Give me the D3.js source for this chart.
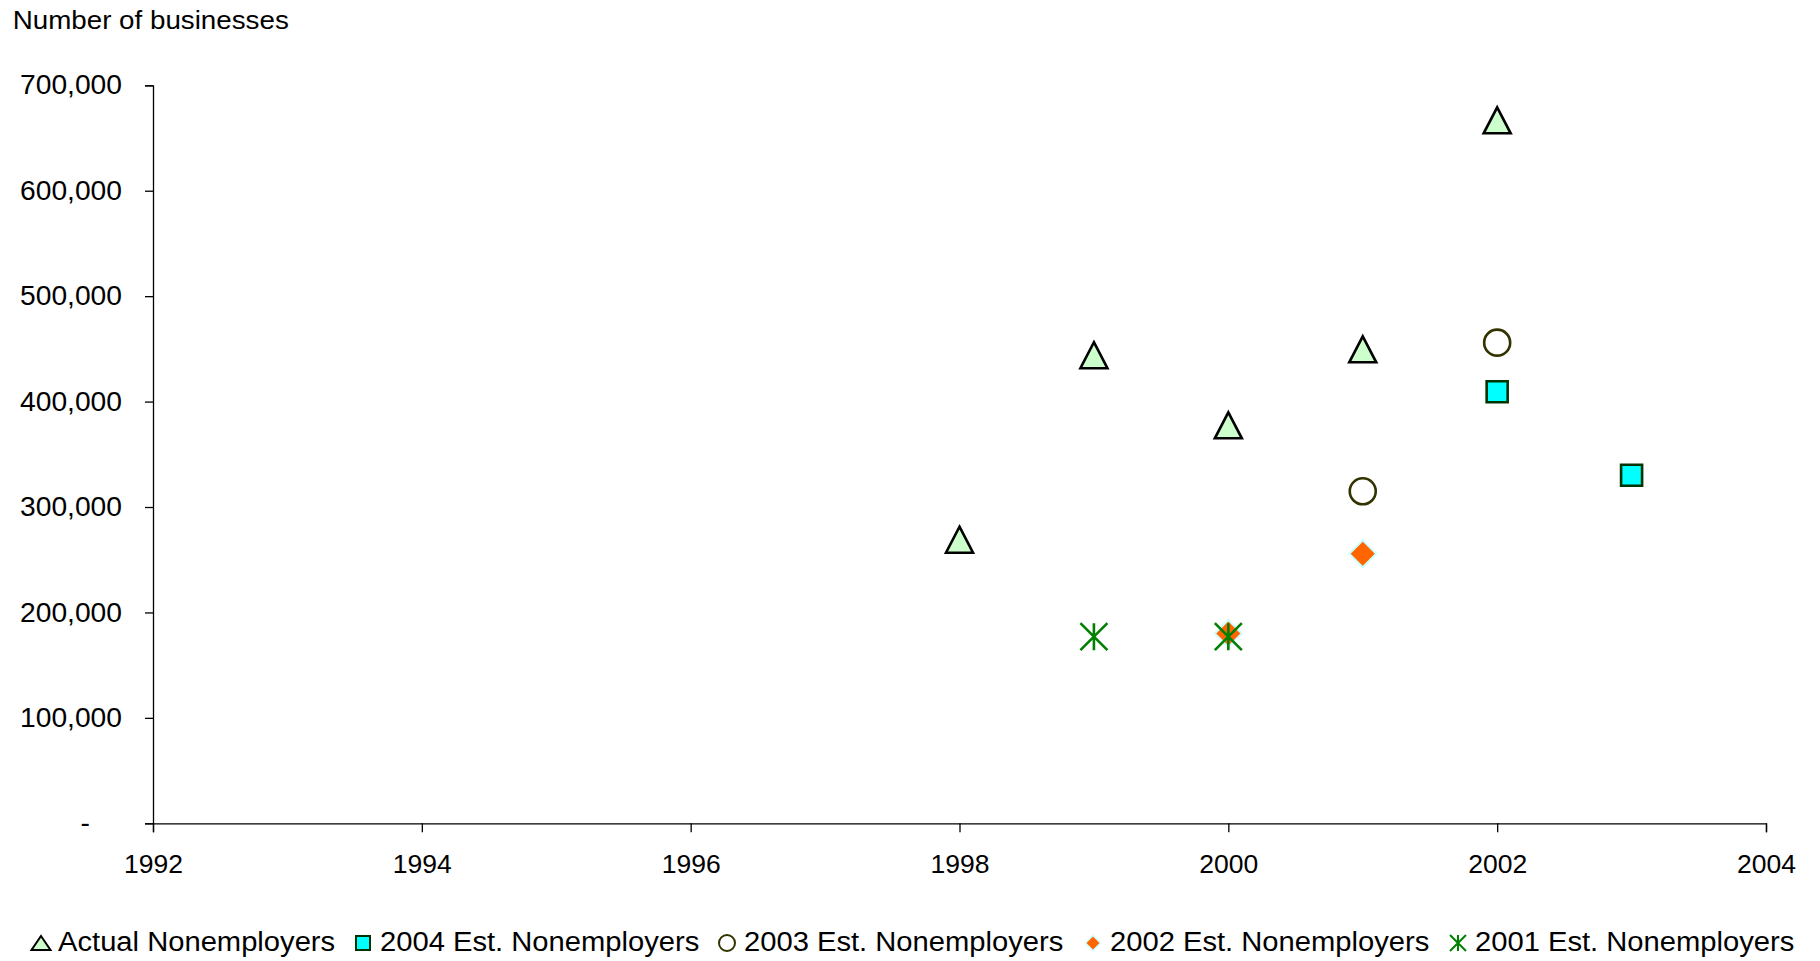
<!DOCTYPE html>
<html>
<head>
<meta charset="utf-8">
<script src="https://cdn.jsdelivr.net/npm/d3@7"></script>
<style>
  html, body { margin: 0; padding: 0; background: #fff; }
  svg { display: block; font-family: "Liberation Sans", Arial, sans-serif; }
</style>
</head>
<body>
<svg id="chart" width="1820" height="961"></svg>
<script>
// ---- data ----
const yTickValues = [0, 100000, 200000, 300000, 400000, 500000, 600000, 700000];
const xTickValues = [1992, 1994, 1996, 1998, 2000, 2002, 2004];

const actualYears = [1998, 1999, 2000, 2001, 2002];
const actualValues = [269000, 444000, 377500, 449600, 666800];

const est2004Years = [2002, 2003];
const est2004Values = [409400, 330100];

const est2003Years = [2001, 2002];
const est2003Values = [314900, 455900];

const est2002Years = [2000, 2001];
const est2002Values = [180000, 255700];

const est2001Years = [1999, 2000];
const est2001Values = [177000, 177000];

const seriesNames = ["Actual Nonemployers", "2004 Est. Nonemployers", "2003 Est. Nonemployers", "2002 Est. Nonemployers", "2001 Est. Nonemployers"];

// ---- layout ----
const svg = d3.select("#chart");
const plotLeft = 153, plotRight = 1766, plotTop = 85.3, plotBottom = 823.3;

const x = d3.scaleLinear().domain([1992, 2004]).range([plotLeft, plotRight]);
const y = d3.scaleLinear().domain([0, 700000]).range([plotBottom, plotTop]);

function stretch(sel, factor) {
  sel.each(function() {
    const len = this.getComputedTextLength();
    d3.select(this).attr("textLength", len * factor).attr("lengthAdjust", "spacingAndGlyphs");
  });
}

// title
const title = svg.append("text").attr("x", 12.7).attr("y", 29.3)
  .attr("font-size", 25).attr("fill", "#000").text("Number of businesses");
stretch(title, 1.11);

// y axis
const yAxis = d3.axisLeft(y).tickValues(yTickValues).tickSizeOuter(0).tickSize(8).tickPadding(23)
  .tickFormat(d => d === 0 ? "-" : d3.format(",")(d));
const gy = svg.append("g").attr("transform", `translate(${plotLeft},0)`).call(yAxis);
gy.selectAll("text").attr("font-size", 27).attr("fill", "#000").attr("font-family", "Liberation Sans, Arial, sans-serif");
stretch(gy.selectAll("text"), 1.045);
gy.selectAll(".tick").filter(d => d === 0).select("text").attr("dx", -32);
gy.selectAll("line, path").attr("stroke", "#000").attr("stroke-width", 1.3);

// x axis
const xAxis = d3.axisBottom(x).tickValues(xTickValues).tickSizeOuter(0).tickSize(9).tickPadding(41)
  .tickFormat(d3.format("d"));
const gx = svg.append("g").attr("transform", `translate(0,${plotBottom})`).call(xAxis);
gx.selectAll("text").attr("font-size", 26.5).attr("fill", "#000").attr("dy", 0)
  .attr("font-family", "Liberation Sans, Arial, sans-serif");
gx.selectAll("line, path").attr("stroke", "#000").attr("stroke-width", 1.3);

// ---- marker shapes ----
function triPath(w, h) { return `M0,${-h/2}L${w/2},${h/2}L${-w/2},${h/2}Z`; }
function sqPath(s) { return `M${-s/2},${-s/2}H${s/2}V${s/2}H${-s/2}Z`; }
function diaPath(s) { return `M0,${-s/2}L${s/2},0L0,${s/2}L${-s/2},0Z`; }
function starPath(s) { const r = s/2; return `M0,${-r}V${r}M${-r},${-r}L${r},${r}M${r},${-r}L${-r},${r}`; }

const styles = [
  { kind: "tri", fill: "#ccffcc", stroke: "#000" },
  { kind: "sq", fill: "#00ffff", stroke: "#003300" },
  { kind: "circ", fill: "#fff", stroke: "#333300" },
  { kind: "dia", fill: "#ff6600", stroke: "#ccffff" },
  { kind: "star", fill: "none", stroke: "#008000" }
];

function drawMarker(g, st, legend) {
  const p = g.append(st.kind === "circ" ? "circle" : "path")
    .attr("fill", st.fill).attr("stroke", st.stroke).attr("stroke-linejoin", "miter");
  const sw = legend ? 2 : 2.6;
  p.attr("stroke-width", sw);
  if (st.kind === "tri") p.attr("d", legend ? triPath(19, 14) : triPath(27, 26));
  else if (st.kind === "sq") p.attr("d", sqPath(legend ? 14 : 21));
  else if (st.kind === "circ") p.attr("r", legend ? 8 : 13);
  else if (st.kind === "dia") p.attr("d", diaPath(legend ? 15 : 27)).attr("stroke-width", legend ? 1.5 : 2);
  else if (st.kind === "star") p.attr("d", starPath(legend ? 16 : 27));
}

const allSeries = [
  [actualYears, actualValues],
  [est2004Years, est2004Values],
  [est2003Years, est2003Values],
  [est2002Years, est2002Values],
  [est2001Years, est2001Values]
];

allSeries.forEach((s, i) => {
  const pts = s[0].map((yr, k) => ({ yr, v: s[1][k] }));
  const g = svg.append("g");
  g.selectAll("g").data(pts).enter().append("g")
    .attr("transform", d => `translate(${x(d.yr)},${y(d.v)})`)
    .each(function() { drawMarker(d3.select(this), styles[i], false); });
});

// ---- legend ----
const legendX = [41, 363, 727, 1093, 1458];
const legendY = 943;
const lg = svg.append("g");
seriesNames.forEach((name, i) => {
  const item = lg.append("g").attr("transform", `translate(${legendX[i]},${legendY})`);
  drawMarker(item, styles[i], true);
  const t = item.append("text").attr("x", 17).attr("y", 8).attr("font-size", 27).attr("fill", "#000").text(name);
  stretch(t, 1.08);
});
</script>
</body>
</html>
